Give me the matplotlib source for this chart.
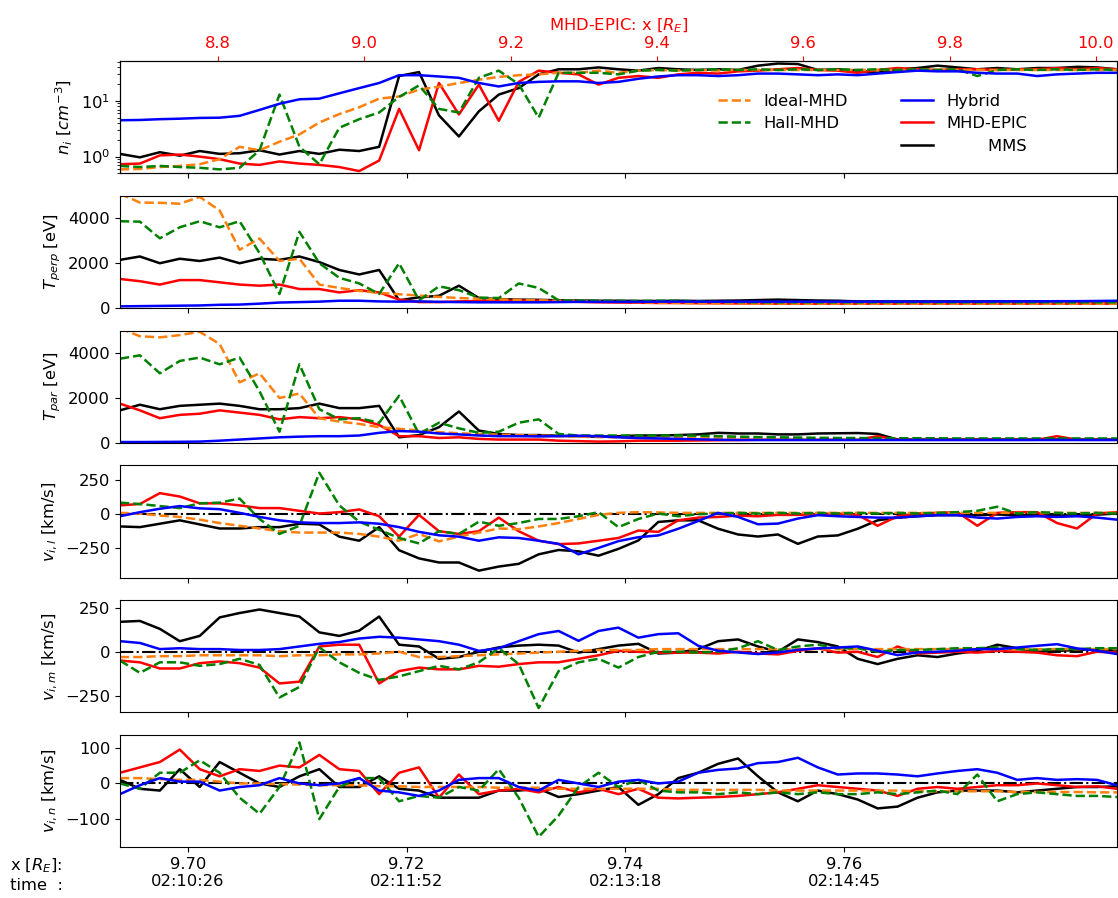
import numpy as np
import matplotlib
matplotlib.use("Agg")
import matplotlib.pyplot as plt
from matplotlib.lines import Line2D

plt.rcParams['font.size'] = 11.8

# ---- sample positions (MMS x [R_E]) ----
x_start, x_end = 9.69378, 9.78497
x = np.linspace(x_start, x_end, 51)

# bottom / top axis ticks
x_ticks = [9.70, 9.72, 9.74, 9.76]
time_labels = ['02:10:26', '02:11:52', '02:13:18', '02:14:45']
epic_x_lim = (8.666, 10.0287)
epic_x_ticks = [8.8, 9.0, 9.2, 9.4, 9.6, 9.8, 10.0]

# ---- n_i [cm^-3] ----
ideal_n = [0.59, 0.6, 0.65, 0.68, 0.73, 0.9, 1.5, 1.3, 1.85, 2.5, 4.1, 5.8, 7.7, 11, 12, 16, 18, 21, 24, 27,
           29, 30, 32, 32, 35, 32, 35, 36, 35, 36, 35, 36, 36, 36, 36, 36, 36, 36, 36, 36,
           36, 36, 36, 36, 36, 36, 36, 36, 36, 36, 36]
hall_n = [0.68, 0.65, 0.68, 0.65, 0.63, 0.59, 0.63, 1.3, 13, 1.5, 0.73, 3.3, 4.7, 6.2, 11.8, 19, 7.2, 6.2, 26, 35,
          20, 5, 32, 32, 32, 30, 35, 36, 35, 36, 37, 36, 37, 36, 37, 36, 37, 36, 37, 36,
          37, 36, 37, 28, 36, 37, 36, 37, 36, 37, 36]
hybrid_n = [4.5, 4.55, 4.7, 4.8, 4.95, 5.0, 5.4, 6.9, 8.9, 10.7, 11.0, 13.7, 17, 21, 29, 29, 27.5, 26, 21, 18.2,
            21, 22, 22.5, 22.5, 21, 22, 25, 27.5, 29, 29, 28, 29, 31, 31, 30, 29, 30, 29, 31, 33,
            35, 34, 34, 32, 31, 31, 28, 30, 31, 32, 32]
epic_n = [0.73, 0.75, 1.05, 1.09, 1.0, 0.9, 0.75, 0.71, 0.82, 0.75, 0.71, 0.65, 0.55, 0.85, 7.2, 1.3, 21, 5.7, 19.6, 4.4,
          22, 35, 32, 30, 19.6, 26, 28, 26, 30, 32, 31, 34, 35, 37, 39, 36, 35, 32, 36, 39,
          37, 36, 37, 37, 36, 37, 37, 39, 37, 39, 37]
mms_n = [1.12, 0.97, 1.2, 1.04, 1.26, 1.12, 1.15, 1.3, 1.09, 1.26, 1.12, 1.33, 1.26, 1.5, 28, 33, 5.5, 2.3, 6.5, 13,
         17, 30, 37, 37, 40, 37, 35, 39, 37, 36, 37, 36, 43, 47, 46, 36, 37, 35, 32, 37,
         39, 43, 40, 37, 39, 37, 39, 39, 41, 40, 37]

# ---- T_perp [eV] ----
ideal_tperp = [5100, 4700, 4690, 4650, 4950, 4350, 2600, 3100, 2100, 2200, 1050, 900, 770, 680, 620, 560, 500, 450, 420, 390,
               370, 350, 330, 320, 300, 280, 260, 240, 230, 220, 210, 210, 200, 200, 200, 200, 200, 200, 200, 200,
               200, 200, 200, 200, 200, 200, 200, 200, 200, 200, 200]
hall_tperp = [3870, 3850, 3110, 3600, 3870, 3600, 3870, 2450, 630, 3400, 2000, 1350, 1100, 630, 2000, 350, 970, 800, 470, 450,
              1100, 900, 350, 330, 330, 320, 320, 330, 330, 300, 280, 270, 260, 260, 260, 260, 260, 260, 260, 260,
              260, 260, 260, 260, 260, 260, 260, 260, 260, 260, 260]
hybrid_tperp = [80, 90, 100, 110, 120, 150, 160, 200, 250, 270, 290, 330, 330, 300, 290, 300, 280, 270, 260, 260,
                260, 260, 270, 280, 280, 280, 280, 290, 290, 290, 290, 290, 290, 290, 290, 290, 290, 290, 290, 290,
                290, 290, 290, 290, 300, 300, 300, 310, 310, 320, 330]
epic_tperp = [1300, 1200, 1050, 1250, 1250, 1150, 1050, 1000, 1050, 850, 850, 700, 800, 700, 380, 270, 270, 300, 320, 330,
              340, 330, 300, 280, 260, 250, 240, 230, 230, 220, 220, 210, 210, 200, 200, 200, 200, 200, 200, 200,
              200, 200, 200, 200, 200, 200, 200, 200, 200, 200, 200]
mms_tperp = [2150, 2300, 2000, 2200, 2100, 2250, 2000, 2200, 2150, 2300, 2050, 1700, 1500, 1700, 350, 480, 550, 1000, 450, 400,
             380, 370, 350, 340, 330, 330, 320, 320, 330, 320, 330, 340, 360, 380, 360, 340, 330, 300, 300, 300,
             300, 300, 300, 300, 300, 300, 300, 300, 300, 300, 300]

# ---- T_par [eV] ----
ideal_tpar = [5100, 4750, 4700, 4800, 4950, 4400, 2700, 3100, 2000, 2200, 1100, 950, 850, 700, 630, 550, 480, 430, 400, 370,
              350, 330, 300, 280, 260, 250, 240, 230, 220, 210, 200, 200, 190, 190, 180, 180, 180, 170, 170, 170,
              160, 160, 160, 150, 150, 150, 150, 150, 150, 150, 150]
hall_tpar = [3750, 3900, 3100, 3650, 3800, 3500, 3800, 2300, 500, 3500, 1500, 1050, 1100, 900, 2100, 400, 900, 650, 450, 500,
             900, 1050, 400, 330, 330, 330, 330, 330, 330, 320, 300, 280, 260, 250, 240, 230, 220, 220, 210, 210,
             210, 210, 200, 200, 200, 200, 200, 200, 200, 200, 200]
hybrid_tpar = [40, 40, 45, 50, 60, 100, 150, 200, 250, 280, 300, 300, 330, 450, 530, 500, 420, 380, 330, 300,
               300, 290, 300, 320, 300, 250, 220, 200, 180, 160, 140, 130, 130, 130, 130, 130, 130, 130, 130, 130,
               130, 130, 130, 130, 130, 130, 130, 130, 130, 130, 130]
epic_tpar = [1750, 1450, 1100, 1250, 1300, 1450, 1350, 1250, 1050, 1150, 1100, 1150, 1050, 800, 300, 300, 220, 250, 180, 150,
             150, 150, 100, 80, 60, 70, 100, 100, 100, 110, 120, 130, 140, 140, 140, 140, 140, 140, 300, 140,
             140, 140, 140, 140, 140, 140, 140, 300, 140, 140, 140]
mms_tpar = [1450, 1700, 1500, 1650, 1700, 1750, 1650, 1500, 1500, 1550, 1750, 1550, 1550, 1650, 250, 350, 700, 1400, 550, 400,
            350, 350, 320, 300, 280, 300, 330, 330, 350, 380, 450, 420, 420, 380, 380, 420, 430, 440, 400, 150,
            150, 150, 150, 150, 150, 150, 150, 150, 150, 150, 150]

# ---- v_i,l [km/s] ----
ideal_vl = [5, 0, -15, -25, -45, -70, -90, -110, -130, -140, -140, -140, -150, -170, -200, -150, -205, -170, -140, -110,
            -115, -95, -70, -40, -10, 5, 10, 8, 5, 5, 5, 5, 5, 5, 5, 5, 5, 5, 5, 5,
            5, 5, 5, 5, 5, 5, 5, 5, 5, 5, 5]
hall_vl = [80, 70, 55, 40, 75, 80, 110, -40, -150, -90, 300, 60, -60, -120, -180, -220, -130, -150, -60, -90,
           -70, -40, -40, -20, 10, -100, -40, 0, -20, -5, 0, 5, 0, 5, 0, 5, 0, 5, 0, 5,
           0, 5, 10, 20, 50, 0, 10, 5, 0, 5, 0]
hybrid_vl = [-20, 10, 35, 55, 38, 32, 5, -25, -50, -65, -70, -70, -65, -75, -100, -135, -160, -170, -200, -175,
             -180, -200, -223, -300, -253, -203, -174, -161, -112, -55, 5, -25, -79, -74, -37, -12, -20, -25, -30, -30,
             -20, -12, -12, -30, -37, -25, -20, -25, -20, -30, -45]
epic_vl = [60, 70, 150, 125, 75, 75, 60, 40, 40, 20, 0, 10, 30, -20, -170, -10, -130, -150, -130, -30,
           -130, -200, -225, -220, -200, -180, -125, -135, -50, -30, -25, -15, -20, -10, -10, -5, 0, -10, -90, -20,
           0, 5, 10, -90, 5, 10, 10, -70, -110, 0, 10]
mms_vl = [-95, -100, -75, -50, -80, -110, -110, -100, -100, -75, -80, -170, -200, -100, -270, -330, -360, -360, -420, -390,
          -370, -300, -268, -278, -310, -260, -198, -62, -50, -50, -112, -154, -169, -154, -223, -169, -161, -112, -50, -30,
          -20, -12, -12, -12, -7, -12, -12, -15, -12, -8, 0]

# ---- v_i,m [km/s] ----
ideal_vm = [-30, -30, -25, -25, -20, -20, -20, -20, -25, -20, -20, -15, -15, -10, 0, -30, -30, -25, -20, -15,
            -10, -5, 0, 5, 10, 10, 10, 15, 15, 15, 15, 15, 15, 15, 15, 15, 15, 15, 15, 15,
            15, 15, 15, 15, 15, 15, 15, 15, 15, 15, 15]
hall_vm = [-50, -120, -60, -60, -80, -70, -40, -75, -260, -200, 25, -60, -120, -160, -140, -110, -80, -100, -60, 20,
           -70, -320, -110, -60, -40, -90, -30, 0, 0, -5, 0, 20, 60, 10, 30, 40, 20, 20, 0, 10,
           10, 15, 20, 20, 25, 15, 10, 15, 15, 20, 20]
hybrid_vm = [60, 50, 15, 20, 15, 15, 10, 10, 15, 30, 45, 55, 75, 85, 80, 70, 60, 40, 5, 20,
             60, 100, 118, 62, 118, 137, 80, 100, 105, 34, 6, -4, -13, -4, 11, 19, 24, 30, 6, -19,
             -4, 0, 6, 15, 15, 24, 34, 43, 19, 6, -13]
epic_vm = [-50, -60, -95, -95, -65, -55, -65, -90, -180, -170, 30, 40, 40, -180, -110, -90, -100, -100, -80, -85,
           -70, -60, -60, -40, -20, 5, 0, -5, -5, -5, -10, 0, -10, -15, 5, 20, -5, 0, -30, 30,
           -10, -5, 0, -5, 5, 0, -5, -20, -25, 0, -5]
mms_vm = [170, 175, 130, 60, 90, 195, 220, 240, 220, 200, 110, 90, 120, 200, 40, 30, -40, -30, 0, 25,
          35, 40, 35, -5, 15, 35, 45, -10, -5, 15, 60, 70, 30, 0, 70, 55, 30, -40, -70, -40,
          -20, -30, -10, 5, 40, 20, 0, 5, 10, 15, 5]

# ---- v_i,n [km/s] ----
ideal_vn = [15, 15, 12, 10, 10, 5, 0, 0, -2, -3, -5, -5, -5, -8, -8, -10, -10, -10, -10, -12,
            -12, -12, -15, -15, -15, -15, -15, -15, -18, -18, -18, -18, -18, -20, -20, -20, -20, -20, -20, -20,
            -22, -22, -22, -22, -22, -24, -24, -24, -24, -25, -25]
hall_vn = [0, -15, 30, 30, 65, 30, -40, -85, -10, 115, -100, -10, 15, 15, -50, -35, -40, -10, -20, 40,
           -40, -150, -90, -10, 30, -10, 10, -20, -25, -25, -30, -25, -30, -25, -30, -25, -30, -30, -25, -30,
           -25, -20, -30, 25, -50, -30, -25, -30, -35, -35, -38]
hybrid_vn = [-30, -5, 15, 5, 5, -20, -10, -5, 15, 0, -5, 0, 15, -20, -25, -35, -20, 10, 15, 15,
             -10, -20, 10, 0, -10, 5, 10, 0, 5, 30, 38, 42, 57, 60, 72, 45, 25, 28, 28, 25,
             20, 28, 35, 40, 30, 10, 15, 10, 12, 10, -5]
epic_vn = [30, 45, 60, 95, 40, 20, 40, 35, 50, 45, 80, 40, 35, -30, 30, 45, -40, 25, -30, -20,
           -15, -25, -10, -25, -15, -30, -15, -40, -42, -40, -38, -35, -30, -25, -15, -5, -10, -15, -20, -35,
           -15, -10, -15, -10, -5, -5, 0, -5, -10, -8, -15]
mms_vn = [10, -15, -20, 40, -10, 60, 30, 0, -10, 20, 40, -10, -10, 20, -15, -20, -40, -40, -40, -20,
          -20, -15, -38, -30, -20, -10, -60, -30, 15, 30, 55, 70, 20, -25, -50, -20, -30, -45, -70, -65,
          -40, -25, -20, -20, -20, -25, -20, -15, -10, -10, -8]

panels = [
    (ideal_n, hall_n, hybrid_n, epic_n, mms_n),
    (ideal_tperp, hall_tperp, hybrid_tperp, epic_tperp, mms_tperp),
    (ideal_tpar, hall_tpar, hybrid_tpar, epic_tpar, mms_tpar),
    (ideal_vl, hall_vl, hybrid_vl, epic_vl, mms_vl),
    (ideal_vm, hall_vm, hybrid_vm, epic_vm, mms_vm),
    (ideal_vn, hall_vn, hybrid_vn, epic_vn, mms_vn),
]
ylabels = [r'$n_i\ [cm^{-3}]$', r'$T_{perp}$ [eV]', r'$T_{par}$ [eV]',
           r'$v_{i,l}$ [km/s]', r'$v_{i,m}$ [km/s]', r'$v_{i,n}$ [km/s]']
ylims = [(0.5, 52), (0, 5000), (0, 5000), (-472, 354), (-345, 293), (-179, 136)]
yticks = [None, [0, 2000, 4000], [0, 2000, 4000], [-250, 0, 250], [-250, 0, 250], [-100, 0, 100]]

fig, axes = plt.subplots(6, 1, figsize=(11.18, 8.98), dpi=100, sharex=True)
fig.subplots_adjust(left=0.1073, right=0.999, top=0.932, bottom=0.0565, hspace=0.2)

lw = 1.8
for k, ax in enumerate(axes):
    ideal, hall, hybrid, epic, mms = panels[k]
    if k >= 3:
        ax.axhline(0, color='k', ls='-.', lw=1.5)
    l_mms, = ax.plot(x, mms, color='k', lw=lw)
    l_epic, = ax.plot(x, epic, color='r', lw=lw)
    l_ideal, = ax.plot(x, ideal, color='C1', ls='--', lw=lw)
    l_hall, = ax.plot(x, hall, color='g', ls='--', lw=lw)
    l_hyb, = ax.plot(x, hybrid, color='b', lw=lw)
    if k == 0:
        ax.set_yscale('log')
        handles = [l_ideal, l_hall, Line2D([], [], color='none'), l_hyb, l_epic, l_mms]
        labels = ['Ideal-MHD', 'Hall-MHD', ' ', 'Hybrid', 'MHD-EPIC', '        MMS']
        ax.legend(handles, labels, ncol=2, frameon=False, loc='lower left',
                  bbox_to_anchor=(0.593, 0.118), borderaxespad=0, columnspacing=3.2,
                  labelspacing=0.45)
    ax.set_ylim(*ylims[k])
    if yticks[k] is not None:
        ax.set_yticks(yticks[k])
    ax.set_ylabel(ylabels[k])

axes[-1].set_xlim(x_start, x_end)
axes[-1].set_xticks(x_ticks)
axes[-1].set_xticklabels(['%.2f\n%s' % (v, t) for v, t in zip(x_ticks, time_labels)])
fig.text(0.009, 0.0457, 'x [$R_E$]:\ntime  :', ha='left', va='top')

# top axis: MHD-EPIC position
ax_top = axes[0].twiny()
ax_top.set_xlim(*epic_x_lim)
ax_top.set_xticks(epic_x_ticks)
ax_top.set_xticklabels(['%.1f' % v for v in epic_x_ticks])
ax_top.tick_params(axis='x', colors='red')
ax_top.set_xlabel('MHD-EPIC: x [$R_E$]', color='red')

fig.savefig('out.png', dpi=100)
